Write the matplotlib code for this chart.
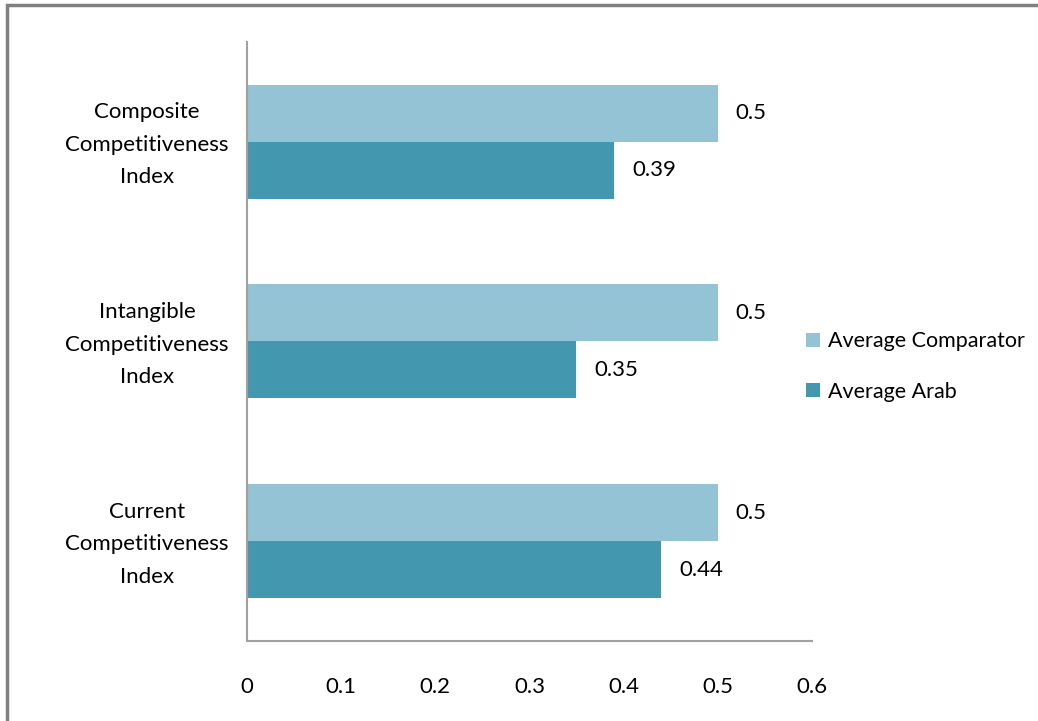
import matplotlib.pyplot as plt
import matplotlib.patches as mpatches
import matplotlib.transforms as mtrans
import numpy as np

plt.rcParams["font.family"] = ["Lato", "DejaVu Sans"]

categories = ["Composite\nCompetitiveness\nIndex",
              "Intangible\nCompetitiveness\nIndex",
              "Current\nCompetitiveness\nIndex"]
comparator = [0.5, 0.5, 0.5]
arab = [0.39, 0.35, 0.44]
series_names = ["Average Comparator", "Average Arab"]
xticks = [0, 0.1, 0.2, 0.3, 0.4, 0.5, 0.6]

light = "#93c3d5"
dark = "#4398b0"
fs = 16

fig = plt.figure(figsize=(10.38, 7.21), dpi=100)
ax = fig.add_axes([0.238, 0.111, 0.544, 0.831])

# grey frame around the figure (open at right/bottom, like the crop)
fig.patches.append(mpatches.Rectangle((0.0065, -0.05), 1.1, 1.043, transform=fig.transFigure,
                                      fill=False, edgecolor="#808080", linewidth=2.5))

index = np.arange(len(categories))
h = 0.285
b1 = ax.barh(index - h / 2, comparator, h, color=light, label=series_names[0])
b2 = ax.barh(index + h / 2, arab, h, color=dark, label=series_names[1])

for bars, vals in [(b1, comparator), (b2, arab)]:
    for bar, v in zip(bars, vals):
        ax.annotate(f"{v:g}", (bar.get_width(), bar.get_y() + bar.get_height() / 2),
                    xytext=(13, 0), textcoords="offset points", va="center", ha="left",
                    fontsize=fs)

ax.set_ylim(len(categories) - 0.5, -0.5)
ax.set_xlim(0, 0.6)
ax.set_yticks(index)
ax.set_yticklabels(categories, fontsize=fs, ha="center", linespacing=1.78)
ax.tick_params(axis="y", length=0, pad=72)
# nudge the category labels up a little
shift = mtrans.ScaledTranslation(0, 0.05, fig.dpi_scale_trans)
for lbl in ax.get_yticklabels():
    lbl.set_transform(lbl.get_transform() + shift)
ax.set_xticks(xticks)
ax.set_xticklabels([f"{t:g}" for t in xticks], fontsize=fs)
ax.tick_params(axis="x", length=0, pad=26)

for s in ["top", "right"]:
    ax.spines[s].set_visible(False)
for s in ["left", "bottom"]:
    ax.spines[s].set_color("#a0a0a0")
    ax.spines[s].set_linewidth(1.5)

ax.legend(loc="center left", bbox_to_anchor=(0.99, 0.458), frameon=False, fontsize=15.5,
          handlelength=0.65, handleheight=0.65, handletextpad=0.35, labelspacing=1.4,
          borderaxespad=0, borderpad=0)

plt.savefig("out.png", dpi=100)
